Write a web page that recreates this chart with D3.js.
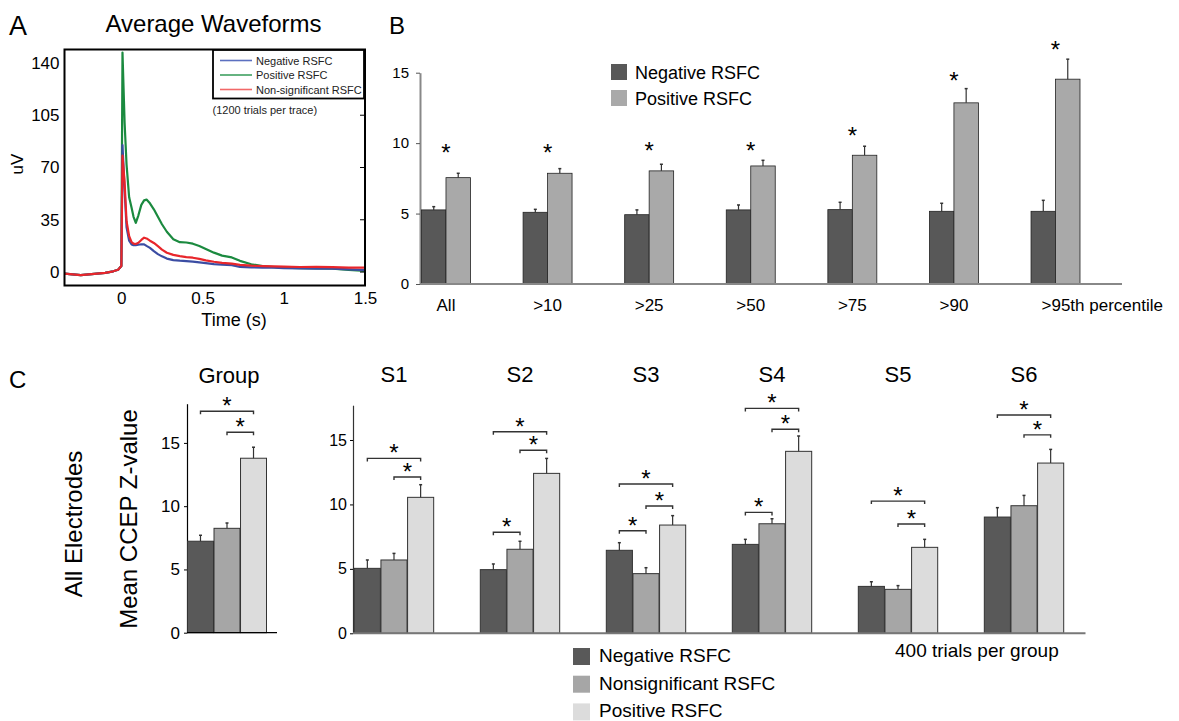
<!DOCTYPE html>
<html>
<head>
<meta charset="utf-8">
<script src="https://cdn.jsdelivr.net/npm/d3@7"></script>
<style>
  body { margin: 0; background: #fff; }
  svg { font-family: "Liberation Sans", Arial, sans-serif; }
</style>
</head>
<body>
<svg id="fig" width="1179" height="721"></svg>
<script>
// ---- panel A: average waveforms (uV over time in s)
const waveTime = [-0.35, -0.3, -0.25, -0.2, -0.15, -0.1, -0.05, -0.02, 0, 0.007, 0.02, 0.032, 0.048, 0.063,
  0.075, 0.089, 0.105, 0.123, 0.14, 0.155, 0.176, 0.2, 0.225, 0.25, 0.28, 0.32, 0.36, 0.4, 0.44, 0.48,
  0.52, 0.57, 0.62, 0.68, 0.73, 0.8, 0.87, 0.94, 1.0, 1.1, 1.2, 1.3, 1.4, 1.5];
const waveNeg = [-1, -1.5, -2, -1.5, -1, -0.5, 0.5, 1.5, 4, 85, 55, 30, 21, 18.5,
  18, 18, 18.3, 18.6, 18.5, 17.5, 16.2, 14, 12, 10.5, 9, 8, 7.6, 7.3, 7, 6.5,
  6, 5.3, 5, 4.6, 3.5, 3.2, 3, 2.9, 2.6, 2.4, 2.3, 2.3, 1.8, 1.3];
const wavePos = [-1, -1.5, -2, -1.5, -1, -0.5, 0.5, 1.5, 4, 147, 100, 72, 50, 43,
  37, 33, 38, 45, 48, 48.5, 46, 42, 37, 32, 27, 22, 20, 19.8, 19, 17.5,
  15.5, 13, 11, 9.8, 7.5, 5.2, 4, 3.3, 2.9, 2.6, 2.4, 2.3, 1.5, 0.7];
const waveNon = [-1, -1.5, -2, -1.5, -1, -0.5, 0.5, 1.5, 4, 78, 60, 34, 24, 20,
  19, 18.8, 19.6, 21.5, 23, 22.5, 21, 19.5, 17.3, 15, 12.9, 11.5, 10.7, 10, 9.6, 8.8,
  7.8, 6.9, 6.2, 5.6, 4.8, 4.3, 4, 3.8, 3.6, 3.4, 3.5, 3.3, 3.0, 2.9];
const waveNames = ["Negative RSFC", "Positive RSFC", "Non-significant RSFC"];
const waveTicksY = [0, 35, 70, 105, 140];
const waveTicksX = [0, 0.5, 1, 1.5];

// ---- panel B: mean z by percentile threshold
const pctCats = ["All", ">10", ">25", ">50", ">75", ">90", ">95th percentile"];
const pctNeg = [5.26, 5.09, 4.92, 5.26, 5.28, 5.16, 5.16];
const pctNegErr = [5.49, 5.3, 5.26, 5.61, 5.8, 5.73, 5.94];
const pctPos = [7.55, 7.86, 8.03, 8.38, 9.14, 12.86, 14.54];
const pctPosErr = [7.86, 8.19, 8.5, 8.78, 9.78, 13.87, 15.96];
const pctStar = [9.74, 9.73, 9.87, 9.87, 10.9, 14.8, 17.0];
const pctTicks = [0, 5, 10, 15];

// ---- panel C: group and single subjects
const groupNames = ["Negative RSFC", "Nonsignificant RSFC", "Positive RSFC"];
const groupMean = [7.23, 8.25, 13.79];
const groupErr = [7.7, 8.67, 14.66];
const groupSig = [[0, 2, 17.5], [1, 2, 15.84]];

const subjects = ["S1", "S2", "S3", "S4", "S5", "S6"];
const subjNeg = [5.04, 4.94, 6.44, 6.9, 3.64, 9.02];
const subjNegErr = [5.69, 5.38, 7.03, 7.29, 4.0, 9.75];
const subjNon = [5.69, 6.52, 4.63, 8.5, 3.41, 9.9];
const subjNonErr = [6.2, 7.14, 5.09, 8.89, 3.7, 10.7];
const subjPos = [10.55, 12.41, 8.4, 14.12, 6.67, 13.21];
const subjPosErr = [11.53, 13.57, 9.13, 15.31, 7.29, 14.27];
const subjSig = [
  [[0, 2, 13.57], [1, 2, 12.13]],
  [[0, 2, 15.64], [1, 2, 14.2], [0, 1, 7.84]],
  [[0, 2, 11.58], [1, 2, 9.88], [0, 1, 7.96]],
  [[0, 2, 17.45], [1, 2, 15.83], [0, 1, 9.38]],
  [[0, 2, 10.26], [1, 2, 8.48]],
  [[0, 2, 16.94], [1, 2, 15.4]]
];
const cTicks = [0, 5, 10, 15];

const svg = d3.select("#fig");
const barCol = ["#595959", "#a6a6a6", "#dcdcdc"];
const lineCol = ["#3b4da3", "#1b8a3f", "#e8262b"];
const legLineCol = ["#5c70c0", "#40a062", "#f26868"];

function star(g, x, y, size) {
  // y is the visual centre of the asterisk
  g.append("text").attr("x", x).attr("y", y + size * 0.58)
    .attr("text-anchor", "middle").attr("font-size", size).text("*");
}

function errBar(g, x, y0, y1) {
  g.append("line").attr("x1", x).attr("x2", x).attr("y1", y0).attr("y2", y1)
    .attr("stroke", "#333").attr("stroke-width", 1.2);
  g.append("line").attr("x1", x - 1.5).attr("x2", x + 1.5).attr("y1", y1).attr("y2", y1)
    .attr("stroke", "#333").attr("stroke-width", 1.5);
}

function bracket(g, xa, xb, y) {
  g.append("path")
    .attr("d", `M${xa},${y + 3}V${y}H${xb}V${y + 3}`)
    .attr("fill", "none").attr("stroke", "#333").attr("stroke-width", 1.4);
}

// ================= Panel A =================
const gA = svg.append("g");
const ax = d3.scaleLinear().domain([-0.35, 1.5]).range([64.5, 365]);
const ay = d3.scaleLinear().domain([-9, 149]).range([285.5, 49.5]);

gA.append("clipPath").attr("id", "clipA").append("rect")
  .attr("x", 64.5).attr("y", 49.5).attr("width", 300.5).attr("height", 236);

const waveLine = d3.line().x((d, i) => ax(waveTime[i])).y(d => ay(d));
[wavePos, waveNeg, waveNon].forEach((s, k) => {
  const ci = [1, 0, 2][k];
  gA.append("path").datum(s)
    .attr("clip-path", "url(#clipA)")
    .attr("d", waveLine)
    .attr("fill", "none")
    .attr("stroke", lineCol[ci])
    .attr("stroke-width", 2.2)
    .attr("stroke-linejoin", "round");
});

gA.append("rect").attr("x", 64.5).attr("y", 49.5).attr("width", 300.5).attr("height", 236)
  .attr("fill", "none").attr("stroke", "#000").attr("stroke-width", 2);

// ticks on right edge, inside the box
waveTicksY.forEach(v => {
  gA.append("line").attr("x1", 365).attr("x2", 360).attr("y1", ay(v)).attr("y2", ay(v))
    .attr("stroke", "#000").attr("stroke-width", 1);
});

gA.append("g").attr("transform", "translate(64.5,0)")
  .call(d3.axisLeft(ay).tickValues(waveTicksY).tickSize(0).tickPadding(5))
  .call(g => g.select(".domain").remove())
  .call(g => g.selectAll("text").attr("font-size", 17).attr("font-family", null).attr("fill", "#000"));

gA.append("g").attr("transform", "translate(0,285.5)")
  .call(d3.axisBottom(ax).tickValues(waveTicksX).tickSize(0).tickPadding(6).tickFormat(d3.format("")))
  .call(g => g.select(".domain").remove())
  .call(g => g.selectAll("text").attr("font-size", 17).attr("font-family", null).attr("fill", "#000"));

gA.append("text").attr("x", 213.5).attr("y", 32).attr("text-anchor", "middle")
  .attr("font-size", 24).text("Average Waveforms");
gA.append("text").attr("x", 9).attr("y", 35).attr("font-size", 27).text("A");
gA.append("text").attr("transform", "translate(23,164) rotate(-90)").attr("text-anchor", "middle")
  .attr("font-size", 17).text("uV");
gA.append("text").attr("x", 234).attr("y", 326).attr("text-anchor", "middle")
  .attr("font-size", 18).text("Time (s)");

// legend
gA.append("rect").attr("x", 213).attr("y", 50).attr("width", 151).attr("height", 48.5)
  .attr("fill", "#fff").attr("stroke", "#000").attr("stroke-width", 1.8);
[0, 1, 2].forEach(i => {
  const y = 60.5 + i * 14.5;
  gA.append("line").attr("x1", 220).attr("x2", 252).attr("y1", y).attr("y2", y)
    .attr("stroke", legLineCol[i]).attr("stroke-width", 1.6);
  gA.append("text").attr("x", 256).attr("y", y + 4).attr("font-size", 11)
    .attr("fill", "#222").text(waveNames[i]);
});
gA.append("text").attr("x", 212.5).attr("y", 113.5).attr("font-size", 11)
  .attr("fill", "#222").text("(1200 trials per trace)");

// ================= Panel B =================
const gB = svg.append("g");
const bx = d3.scaleBand().domain(pctCats).range([421.5, 1080]).paddingInner(0.518).paddingOuter(0);
const bs = d3.scaleBand().domain([0, 1]).range([0, bx.bandwidth()]);
const by = d3.scaleLinear().domain([0, 15]).range([284, 72.7]);

gB.append("g").attr("transform", "translate(420,0)")
  .call(d3.axisLeft(by).tickValues(pctTicks).tickSize(4).tickSizeOuter(0).tickPadding(7))
  .call(g => g.select(".domain").attr("stroke", "#888").attr("stroke-width", 2))
  .call(g => g.selectAll(".tick line").attr("stroke", "#555"))
  .call(g => g.selectAll("text").attr("font-size", 15).attr("font-family", null).attr("fill", "#000"));

pctCats.forEach((c, i) => {
  const x0 = bx(c);
  [[pctNeg[i], pctNegErr[i]], [pctPos[i], pctPosErr[i]]].forEach((v, k) => {
    const x = x0 + bs(k);
    gB.append("rect").attr("x", x).attr("y", by(v[0])).attr("width", bs.bandwidth())
      .attr("height", by(0) - by(v[0]))
      .attr("fill", barCol[k * 1 + (k === 1 ? 0 : 0)] && (k === 0 ? "#585858" : "#a9a9a9"))
      .attr("stroke", "#222").attr("stroke-width", 0.8);
    errBar(gB, x + bs.bandwidth() / 2, by(v[0]), by(v[1]));
  });
  star(gB, x0 + bx.bandwidth() / 2, by(pctStar[i]), 24);
  const last = i === pctCats.length - 1;
  gB.append("text")
    .attr("x", last ? x0 + bx.bandwidth() / 2 - 14 : x0 + bx.bandwidth() / 2)
    .attr("y", 310.5).attr("text-anchor", last ? "start" : "middle")
    .attr("font-size", 17).text(c);
});

gB.append("line").attr("x1", 420).attr("x2", 1122).attr("y1", by(0)).attr("y2", by(0))
  .attr("stroke", "#888").attr("stroke-width", 2);

gB.append("text").attr("x", 389).attr("y", 34).attr("font-size", 24).text("B");
[["Negative RSFC", "#585858"], ["Positive RSFC", "#a9a9a9"]].forEach((d, i) => {
  gB.append("rect").attr("x", 611).attr("y", 64 + i * 26).attr("width", 16).attr("height", 16)
    .attr("fill", d[1]);
  gB.append("text").attr("x", 635).attr("y", 78.5 + i * 26).attr("font-size", 18).text(d[0]);
});

// ================= Panel C: group =================
const gC = svg.append("g");
const cgy = d3.scaleLinear().domain([0, 18.1]).range([632.7, 403.7]);
const cgx = d3.scaleBand().domain([0, 1, 2]).range([187.5, 266.5]).paddingInner(0.02);

gC.append("g").attr("transform", "translate(187,0)")
  .call(d3.axisLeft(cgy).tickValues(cTicks).tickSize(3).tickSizeOuter(0).tickPadding(4))
  .call(g => g.select(".domain").attr("stroke", "#000").attr("stroke-width", 1.2))
  .call(g => g.selectAll("text").attr("font-size", 17).attr("font-family", null).attr("fill", "#000"));

groupMean.forEach((v, k) => {
  const x = cgx(k);
  gC.append("rect").attr("x", x).attr("y", cgy(v)).attr("width", cgx.bandwidth())
    .attr("height", cgy(0) - cgy(v)).attr("fill", barCol[k])
    .attr("stroke", "#333").attr("stroke-width", 1);
  errBar(gC, x + cgx.bandwidth() / 2, cgy(v), cgy(groupErr[k]));
});
groupSig.forEach(s => {
  const xa = cgx(s[0]) + cgx.bandwidth() / 2, xb = cgx(s[1]) + cgx.bandwidth() / 2;
  bracket(gC, xa, xb, cgy(s[2]));
  star(gC, (xa + xb) / 2, cgy(s[2]) - 11, 24);
});
gC.append("line").attr("x1", 187).attr("x2", 277).attr("y1", cgy(0)).attr("y2", cgy(0))
  .attr("stroke", "#000").attr("stroke-width", 1.2);

gC.append("text").attr("x", 229).attr("y", 382.5).attr("text-anchor", "middle")
  .attr("font-size", 22).text("Group");
gC.append("text").attr("x", 9).attr("y", 388).attr("font-size", 24).text("C");
gC.append("text").attr("transform", "translate(81.5,524) rotate(-90)").attr("text-anchor", "middle")
  .attr("font-size", 24).text("All Electrodes");
gC.append("text").attr("transform", "translate(136.5,519) rotate(-90)").attr("text-anchor", "middle")
  .attr("font-size", 24).text("Mean CCEP Z-value");

// ================= Panel C: subjects =================
const gS = svg.append("g");
const sy = d3.scaleLinear().domain([0, 17.7]).range([633.3, 405.2]);
const sx = d3.scaleBand().domain(subjects).range([354.3, 1063.7]).paddingInner(0.37).paddingOuter(0);
const ss = d3.scaleBand().domain([0, 1, 2]).range([0, sx.bandwidth()]).paddingInner(0.02);

gS.append("g").attr("transform", "translate(353,0)")
  .call(d3.axisLeft(sy).tickValues(cTicks).tickSize(3).tickSizeOuter(0).tickPadding(3))
  .call(g => g.select(".domain").attr("stroke", "#333").attr("stroke-width", 1.2))
  .call(g => g.selectAll("text").attr("font-size", 16).attr("font-family", null).attr("fill", "#000"));

subjects.forEach((s, i) => {
  const x0 = sx(s);
  const means = [subjNeg[i], subjNon[i], subjPos[i]];
  const errs = [subjNegErr[i], subjNonErr[i], subjPosErr[i]];
  means.forEach((v, k) => {
    const x = x0 + ss(k);
    gS.append("rect").attr("x", x).attr("y", sy(v)).attr("width", ss.bandwidth())
      .attr("height", sy(0) - sy(v)).attr("fill", barCol[k])
      .attr("stroke", "#333").attr("stroke-width", 1);
    errBar(gS, x + ss.bandwidth() / 2, sy(v), sy(errs[k]));
  });
  subjSig[i].forEach(b => {
    const xa = x0 + ss(b[0]) + ss.bandwidth() / 2, xb = x0 + ss(b[1]) + ss.bandwidth() / 2;
    bracket(gS, xa, xb, sy(b[2]));
    star(gS, (xa + xb) / 2, sy(b[2]) - 11, 24);
  });
  gS.append("text").attr("x", x0 + sx.bandwidth() / 2).attr("y", 382)
    .attr("text-anchor", "middle").attr("font-size", 22).text(s);
});

gS.append("line").attr("x1", 353).attr("x2", 1085.5).attr("y1", sy(0)).attr("y2", sy(0))
  .attr("stroke", "#777").attr("stroke-width", 2);

groupNames.forEach((n, i) => {
  gS.append("rect").attr("x", 573).attr("y", 648 + i * 27.7).attr("width", 17).attr("height", 17)
    .attr("fill", barCol[i]);
  gS.append("text").attr("x", 599).attr("y", 662 + i * 27.7).attr("font-size", 19).text(n);
});
gS.append("text").attr("x", 895).attr("y", 657).attr("font-size", 19).text("400 trials per group");
</script>
</body>
</html>
